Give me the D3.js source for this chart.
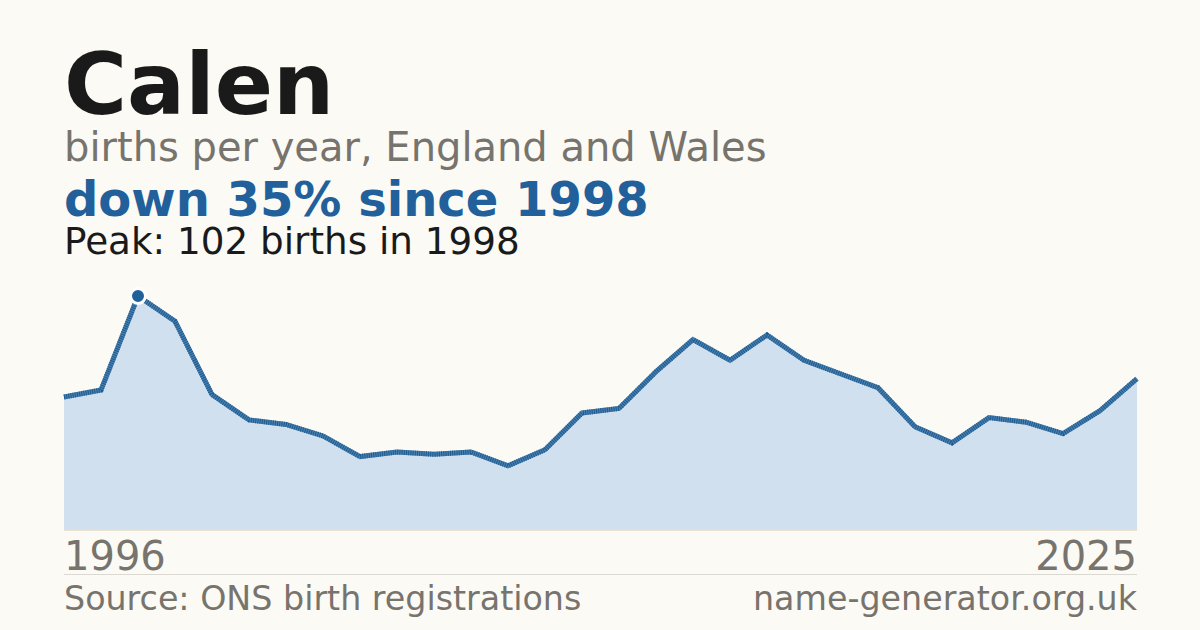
<!DOCTYPE html>
<html><head><meta charset="utf-8">
<script src="https://cdn.jsdelivr.net/npm/d3@7"></script>
<style>html,body{margin:0;padding:0;background:#fbfaf5;}svg{display:block;}</style>
</head><body>
<script>
const years = d3.range(1996, 2026);
const births = [58, 61, 102, 91, 59, 48, 46, 41, 32, 34, 33, 34, 28, 35, 51, 53, 69, 83, 74, 85, 74, 68, 62, 45, 38, 49, 47, 42, 52, 66];
const titleText = "Calen";
const subtitleText = "births per year, England and Wales";
const headlineText = "down 35% since 1998";
const peakText = "Peak: 102 births in 1998";
const sourceText = "Source: ONS birth registrations";
const siteText = "name-generator.org.uk";

const W = 1200, H = 630;
const svg = d3.select("body").append("svg").attr("width", W).attr("height", H);
svg.append("rect").attr("width", W).attr("height", H).attr("fill", "#fbfaf5");

const font = "'DejaVu Sans', sans-serif";
const left = 64, right = 1137;
const x = d3.scaleLinear().domain([years[0], years[years.length-1]]).range([left, right]);
const y = d3.scaleLinear().domain([0, d3.max(births)]).range([530, 296]);
const data = years.map((yr, i) => ({yr, v: births[i]}));

svg.append("path").datum(data)
  .attr("d", d3.area().x(d => x(d.yr)).y0(y(0)).y1(d => y(d.v)))
  .attr("fill", "#d0e0ef");
svg.append("line").attr("x1", left).attr("x2", right).attr("y1", y(0)+0.5).attr("y2", y(0)+0.5)
  .attr("stroke", "#ece2d3").attr("stroke-width", 1);
const lineGen = d3.line().x(d => x(d.yr)).y(d => y(d.v));
svg.append("path").datum(data)
  .attr("d", lineGen)
  .attr("fill", "none").attr("stroke", "#4a80b0").attr("stroke-width", 5)
  .attr("stroke-linejoin", "miter");
svg.append("path").datum(data)
  .attr("d", lineGen)
  .attr("fill", "none").attr("stroke", "#1d5a8e").attr("stroke-width", 5)
  .attr("stroke-dasharray", "1,1.2")
  .attr("stroke-linejoin", "miter");

const peakIdx = births.indexOf(d3.max(births));
svg.append("circle").attr("cx", x(years[peakIdx])).attr("cy", y(births[peakIdx])).attr("r", 7.5)
  .attr("fill", "#21619a").attr("stroke", "#ffffff").attr("stroke-width", 3);

svg.append("text").attr("x", 64).attr("y", 114).text(titleText)
  .attr("font-family", font).attr("font-weight", "bold").attr("font-size", 86).attr("fill", "#1a1a1a");
svg.append("text").attr("x", 64).attr("y", 161).text(subtitleText)
  .attr("font-family", font).attr("font-size", 40).attr("fill", "#77736d");
svg.append("text").attr("x", 64).attr("y", 216).text(headlineText)
  .attr("font-family", font).attr("font-weight", "bold").attr("font-size", 48).attr("fill", "#21609a");
svg.append("text").attr("x", 64).attr("y", 254).text(peakText)
  .attr("font-family", font).attr("font-size", 37.3).attr("fill", "#1a1a1a");

svg.append("text").attr("x", left).attr("y", 570).text(years[0])
  .attr("font-family", font).attr("font-size", 40).attr("fill", "#77736d");
svg.append("text").attr("x", right).attr("y", 570).attr("text-anchor", "end").text(years[years.length-1])
  .attr("font-family", font).attr("font-size", 40).attr("fill", "#77736d");
svg.append("line").attr("x1", left).attr("x2", right).attr("y1", 574.5).attr("y2", 574.5)
  .attr("stroke", "#dcd9d2").attr("stroke-width", 1);
svg.append("text").attr("x", left).attr("y", 610).text(sourceText)
  .attr("font-family", font).attr("font-size", 33.3).attr("fill", "#77736d");
svg.append("text").attr("x", right).attr("y", 610).attr("text-anchor", "end").text(siteText)
  .attr("font-family", font).attr("font-size", 33.3).attr("fill", "#77736d");
</script>
</body></html>
